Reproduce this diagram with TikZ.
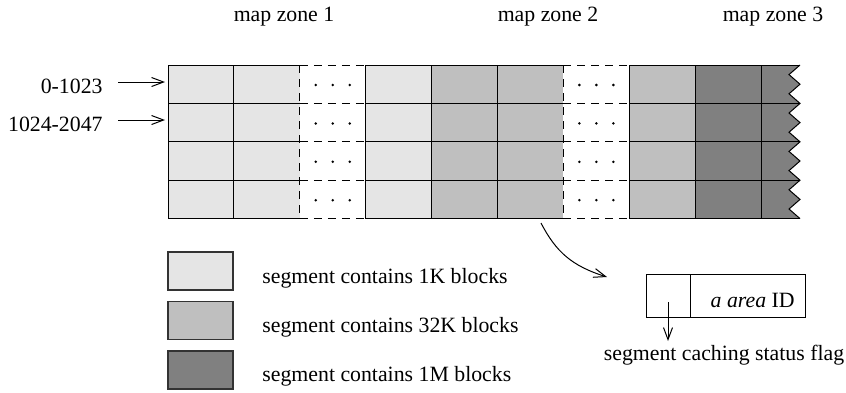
\documentclass[tikz,border=0pt]{standalone}
\usepackage{fontspec}
\setmainfont{Liberation Serif}
\usetikzlibrary{arrows.meta}
\definecolor{cLight}{gray}{0.90}
\definecolor{cMid}{gray}{0.75}
\definecolor{cDark}{gray}{0.50}
\begin{document}
\begin{tikzpicture}[x=0.5pt,y=-0.5pt,
  font=\fontsize{10.9pt}{13pt}\selectfont,
  grid/.style={line width=0.5pt,black},
  dgrid/.style={line width=0.5pt,black,dash pattern=on 4pt off 3pt},
  arr/.style={line width=0.5pt,-{Straight Barb[length=6pt,width=4.5pt]}},
  lbl/.style={inner sep=0pt},
  keybox/.style={draw=black!80,line width=0.6pt,minimum width=32.5pt,minimum height=19pt,inner sep=0pt},
  cell/.style={draw,line width=0.5pt,inner sep=0pt,minimum height=21.5pt}]
\useasboundingbox (0,0) rectangle (846,392);
% fills
\fill[cLight] (168,65) rectangle (299.8,218.6);
\fill[cLight] (365.7,65) rectangle (431.6,218.6);
\fill[cMid] (431.6,65) rectangle (563.4,218.6);
\fill[cMid] (629.3,65) rectangle (695.2,218.6);
\fill[cDark] (695.2,65) rectangle (761.1,218.6);
\fill[cDark] (761.1,65) -- (800,65)
  \foreach \y in {65,103.4,141.8,180.2} {
    -- (789,\y+9.6) -- (800,\y+19.2) -- (789,\y+28.8) -- (800,\y+38.4)}
  -- (761.1,218.6) -- cycle;
% zigzag edge
\draw[grid] (800,65)
  \foreach \y in {65,103.4,141.8,180.2} {
    -- (789,\y+9.6) -- (800,\y+19.2) -- (789,\y+28.8) -- (800,\y+38.4)};
% horizontal lines
\foreach \y in {65,103.4,141.8,180.2,218.6} {
  \draw[grid] (168,\y) -- (299.8,\y);
  \draw[grid] (365.7,\y) -- (563.4,\y);
  \draw[grid] (629.3,\y) -- (800,\y);
  \draw[dgrid] (299.8,\y) -- (365.7,\y);
  \draw[dgrid] (563.4,\y) -- (629.3,\y);
}
% vertical lines
\foreach \x in {168,233.9,365.7,431.6,497.5,629.3,695.2,761.1}
  \draw[grid] (\x,65) -- (\x,218.6);
\foreach \x in {299.8,563.4}
  \draw[dgrid] (\x,65) -- (\x,218.6);
% dots
\foreach \yc in {85,123.4,161.8,200.2}
  \foreach \xc in {332.75,596.35}
    \foreach \d in {-17,0,17}
      \fill (\xc+\d,\yc) circle (0.7pt);
% zone labels
\node[lbl,anchor=base] (z1) at (284,21) {map zone 1};
\node[lbl,anchor=base] (z2) at (548,21) {map zone 2};
\node[lbl,anchor=base] (z3) at (773,21) {map zone 3};
% row labels
\node[lbl,anchor=base east] (l1) at (103,93) {0-1023};
\node[lbl,anchor=base east] (l2) at (103,131.5) {1024-2047};
\coordinate (a1s) at (118,82);
\coordinate (a1e) at (165,82);
\coordinate (a2s) at (118,120);
\coordinate (a2e) at (165,120);
\draw[arr] (a1s) -- (a1e);
\draw[arr] (a2s) -- (a2e);
% legend
\node[keybox,fill=cLight] (k1) at (200.5,271) {};
\node[keybox,fill=cMid] (k2) at (200.5,320.5) {};
\node[keybox,fill=cDark] (k3) at (200.5,370) {};
\node[lbl,anchor=base west] (t1) at (262,283) {segment contains 1K blocks};
\node[lbl,anchor=base west] (t2) at (262,332) {segment contains 32K blocks};
\node[lbl,anchor=base west] (t3) at (262,381) {segment contains 1M blocks};
% entry box
\node[cell,minimum width=22pt,anchor=north west] (flag) at (646,274) {};
\node[cell,minimum width=57.5pt,anchor=north west] (idf) at (690,274) {};
\node[lbl,anchor=base east] (idt) at (795,307) {\textit{a area}\ ID};
\node[lbl,anchor=base] (cap) at (724,360) {segment caching status flag};
\coordinate (fs) at (668,302);
\coordinate (fe) at (668,341);
\draw[arr] (fs) -- (fe);
% curved arrow
\coordinate (cs) at (541,223);
\coordinate (ce) at (607,277);
\draw[arr] (cs) .. controls (556,252) and (572,266) .. (ce);
\end{tikzpicture}
\end{document}
